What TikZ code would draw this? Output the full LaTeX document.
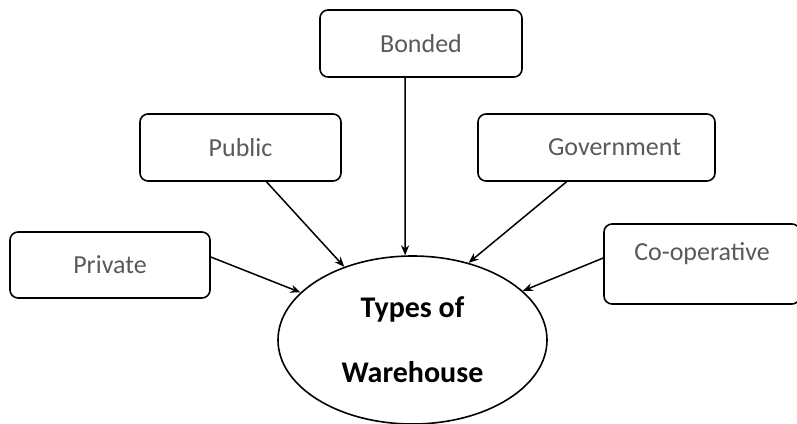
\documentclass[tikz,border=0pt]{standalone}
\usepackage{fontspec}
\setmainfont{Carlito}
\usetikzlibrary{shapes.geometric,arrows.meta}

\tikzset{
  kindbox/.style={draw, line width=1.6pt, rounded corners=8pt, minimum height=67pt,
    inner sep=0pt, text=black!65, font=\fontsize{26}{30}\selectfont},
  hubnode/.style={draw, ellipse, line width=1.6pt, minimum width=269pt, minimum height=168pt,
    inner sep=0pt, align=center, font=\fontsize{30}{65}\selectfont\bfseries},
  feeds/.style={line width=1.5pt, -{Stealth[length=10pt,width=8pt]}}
}

\begin{document}
\begin{tikzpicture}[x=1pt, y=-1pt]
  \useasboundingbox (0,0) rectangle (797,423);

  % Centre of the diagram
  \node[hubnode] (house) at (412.5,340) {Types of\\Warehouse};

  % The five kinds of warehouse
  \node[kindbox, minimum width=202pt] (bonded) at (421,43.5) {Bonded};
  \node[kindbox, minimum width=201pt] (public) at (240.5,147.5) {Public};
  \node[kindbox, minimum width=237pt] (govt) at (596.5,147.5) {\hspace*{36pt}Government};
  \node[kindbox, minimum width=200pt, minimum height=66pt] (private) at (110,265) {Private};
  \node[kindbox, minimum width=196pt, minimum height=80pt, text depth=24pt] (coop) at (702,264) {Co-operative};

  % Arrows into the centre
  \draw[feeds] ([xshift=-16pt]bonded.south) -- (house.95);
  \draw[feeds] ([xshift=26pt]public.south) -- (house.133);
  \draw[feeds] ([xshift=-30pt]govt.south) -- (house.54);
  \draw[feeds] ([yshift=8pt]private.east) -- (house.157);
  \draw[feeds] ([yshift=6pt]coop.west) -- (house.24);
\end{tikzpicture}
\end{document}
